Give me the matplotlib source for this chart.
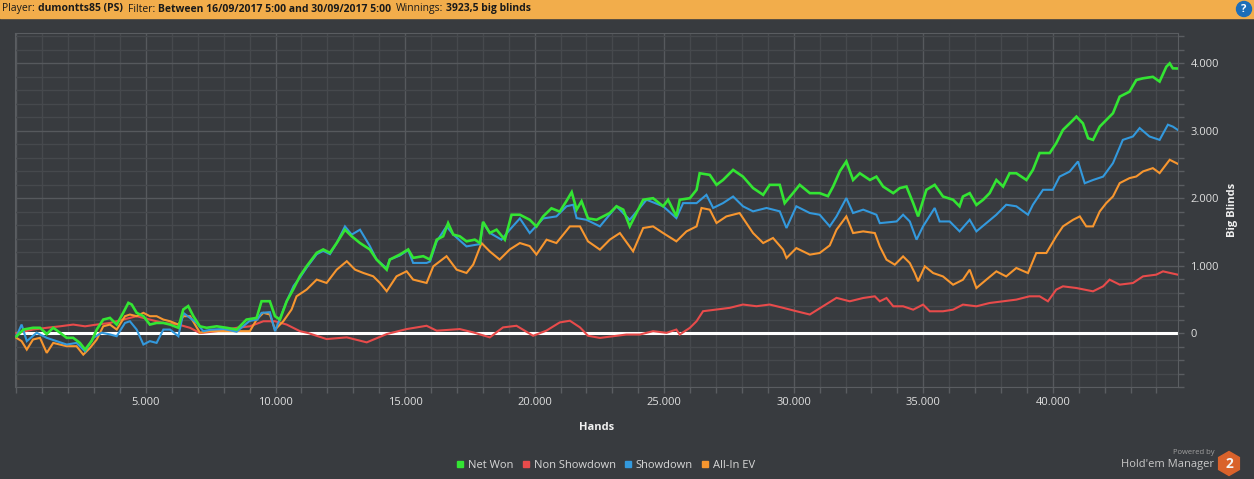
import matplotlib
matplotlib.use("Agg")
import matplotlib.pyplot as plt
from matplotlib.ticker import MultipleLocator, FuncFormatter
from matplotlib.lines import Line2D
from matplotlib.patches import RegularPolygon, Circle, Rectangle

plt.rcParams['font.family'] = ['Open Sans', 'DejaVu Sans']

# ---- data ----
net_won_hands = [0, 270, 640, 910, 1170, 1420, 1680, 1940, 2190, 2450, 2650, 2900, 3100, 3350, 3610, 3870,
                 4120, 4320, 4450, 4640, 4900, 5150, 5410, 5670, 5930, 6250, 6440, 6630, 6830, 7080, 7340,
                 7730, 8110, 8500, 8880, 9270, 9460, 9780, 9980, 10170, 10430, 10680, 10940, 11200, 11590,
                 11840, 12100, 12360, 12680, 12940, 13260, 13640, 13900, 14290, 14410, 14800, 15120, 15310,
                 15700, 15960, 16220, 16470, 16660, 16860, 17110, 17370, 17690, 17890, 18010, 18270, 18530,
                 18850, 19110, 19430, 19810, 20070, 20330, 20650, 20970, 21230, 21430, 21620, 21810, 22060,
                 22390, 22900, 23160, 23420, 23670, 23930, 24190, 24570, 24960, 25150, 25470, 25600, 25990,
                 26250, 26370, 26760, 27020, 27270, 27660, 28040, 28430, 28820, 29070, 29460, 29650, 29970,
                 30230, 30620, 31000, 31320, 31520, 31780, 32030, 32290, 32550, 32940, 33190, 33450, 33840,
                 34090, 34350, 34610, 34800, 35120, 35440, 35760, 36150, 36400, 36530, 36790, 37050, 37310,
                 37560, 37820, 38080, 38330, 38590, 38980, 39230, 39490, 39880, 40130, 40390, 40650, 40910,
                 41160, 41360, 41550, 41810, 42060, 42320, 42580, 42960, 43220, 43480, 43860, 44120, 44380,
                 44510, 44630, 44820]
net_won = [-50, 52, 78, 78, -15, 78, 5, -71, -71, -146, -245, -120, 52, 200, 225, 126,
           300, 448, 423, 300, 250, 126, 150, 150, 126, 78, 350, 400, 250, 100, 78,
           100, 78, 52, 200, 225, 472, 472, 250, 200, 472, 645, 843, 990, 1190,
           1240, 1190, 1335, 1533, 1435, 1335, 1240, 1090, 940, 1090, 1165, 1240, 1115,
           1140, 1090, 1385, 1435, 1630, 1460, 1435, 1360, 1385, 1335, 1650, 1485, 1533,
           1385, 1755, 1755, 1680, 1580, 1730, 1850, 1800, 1960, 2090, 1830, 1955, 1700,
           1680, 1780, 1880, 1830, 1582, 1780, 1977, 2000, 1880, 1977, 1730, 1977, 2000,
           2125, 2370, 2346, 2198, 2270, 2420, 2320, 2150, 2050, 2198, 2198, 1927, 2075,
           2198, 2075, 2075, 2030, 2173, 2400, 2545, 2270, 2370, 2270, 2320, 2173, 2075,
           2150, 2173, 1927, 1730, 2125, 2198, 2025, 1977, 1880, 2025, 2075, 1900, 1977,
           2075, 2270, 2173, 2370, 2370, 2270, 2420, 2670, 2670, 2815, 3013, 3110, 3210,
           3110, 2890, 2865, 3062, 3160, 3260, 3506, 3580, 3753, 3778, 3800, 3730, 3950,
           4000, 3926, 3923.5]

showdown_hands = [0, 200, 400, 780, 1170, 1550, 1940, 2320, 2650, 2970, 3290, 3610, 3870, 4190, 4380, 4640,
                  4900, 5150, 5410, 5670, 5930, 6250, 6440, 6700, 6960, 7210, 7500, 8000, 8500, 9000, 9300,
                  9460, 9780, 9980, 10430, 10700, 10940, 11200, 11590, 11840, 12100, 12360, 12680, 12940,
                  13260, 13640, 13900, 14290, 14410, 14800, 15120, 15310, 15830, 15960, 16220, 16600, 16860,
                  17370, 17890, 18010, 18270, 18720, 19040, 19430, 19810, 20330, 20840, 21230, 21490, 21620,
                  22000, 22520, 23160, 23670, 24320, 24960, 25470, 25730, 26250, 26630, 26890, 27270, 27660,
                  28040, 28430, 28950, 29460, 29720, 30100, 30620, 31000, 31390, 31650, 32030, 32290, 32680,
                  33190, 33320, 33970, 34220, 34480, 34740, 34990, 35440, 35630, 36020, 36400, 36790, 37050,
                  37430, 37820, 38200, 38590, 39040, 39230, 39620, 40000, 40260, 40650, 40970, 41230, 41550,
                  41940, 42320, 42700, 43090, 43350, 43730, 44120, 44440, 44630, 44820]
showdown = [-47, 126, -120, 5, -71, -120, -170, -146, -270, -71, 5, -20, -47, 150, 175, 52,
            -170, -120, -146, 52, 52, -47, 300, 225, 150, 28, 50, 60, 20, 180, 200,
            300, 310, 28, 470, 700, 820, 970, 1170, 1220, 1170, 1335, 1582, 1460,
            1533, 1290, 1090, 960, 1090, 1150, 1230, 1040, 1040, 1060, 1360, 1582, 1460,
            1285, 1320, 1640, 1485, 1385, 1533, 1700, 1483, 1700, 1730, 1880, 1903, 1705,
            1680, 1582, 1880, 1680, 1977, 1880, 1705, 1927, 1927, 2050, 1855, 1927, 2025,
            1880, 1805, 1855, 1805, 1558, 1880, 1780, 1755, 1582, 1730, 2002, 1780, 1830,
            1755, 1630, 1655, 1755, 1655, 1385, 1582, 1855, 1655, 1655, 1508, 1680, 1508,
            1630, 1755, 1903, 1880, 1755, 1903, 2125, 2125, 2320, 2395, 2545, 2222, 2270,
            2320, 2520, 2865, 2915, 3040, 2915, 2865, 3090, 3062, 3013]

allin_ev_hands = [0, 200, 400, 640, 910, 1170, 1420, 1680, 1940, 2320, 2580, 2840, 3100, 3350, 3610, 3870,
                  4190, 4380, 4640, 4900, 5150, 5410, 5670, 5930, 6250, 6440, 6700, 7080, 7470, 7990, 8500,
                  9010, 9270, 9530, 9780, 9980, 10300, 10620, 10810, 11200, 11590, 11970, 12360, 12750,
                  13070, 13390, 13770, 14030, 14290, 14670, 15060, 15310, 15830, 16090, 16600, 16990, 17370,
                  17630, 17950, 18270, 18650, 19040, 19430, 19810, 20070, 20460, 20840, 21360, 21750, 22060,
                  22520, 22900, 23290, 23800, 24190, 24570, 24960, 25470, 25860, 26250, 26440, 26760, 27020,
                  27400, 27910, 28170, 28430, 28820, 29200, 29590, 29720, 30100, 30620, 31000, 31390, 31650,
                  32030, 32290, 32680, 33130, 33320, 33580, 33900, 34220, 34480, 34670, 34800, 35060, 35380,
                  35760, 36150, 36530, 36790, 37050, 37430, 37820, 38200, 38590, 39040, 39360, 39750, 40130,
                  40390, 40780, 41040, 41290, 41550, 41810, 42060, 42320, 42580, 42960, 43220, 43480, 43860,
                  44120, 44510, 44820]
allin_ev = [-71, -120, -245, -96, -71, -294, -146, -170, -195, -195, -320, -220, -96, 100, 126, 52,
            250, 275, 250, 300, 250, 250, 200, 175, 126, 250, 250, 5, 28, 28, 28,
            28, 200, 300, 275, 52, 175, 350, 545, 645, 793, 743, 940, 1065,
            940, 891, 842, 743, 620, 842, 916, 793, 743, 990, 1140, 940, 891,
            1016, 1335, 1210, 1090, 1240, 1335, 1290, 1165, 1385, 1335, 1582, 1582, 1360,
            1237, 1385, 1483, 1212, 1558, 1582, 1483, 1360, 1508, 1582, 1855, 1830, 1632,
            1730, 1780, 1632, 1483, 1335, 1410, 1237, 1113, 1260, 1163, 1187, 1300, 1532,
            1730, 1483, 1508, 1483, 1286, 1088, 1014, 1137, 1038, 890, 768, 990, 890,
            840, 717, 791, 940, 668, 791, 915, 840, 965, 890, 1187, 1187, 1434,
            1582, 1680, 1730, 1582, 1582, 1804, 1927, 2026, 2224, 2298, 2322, 2397, 2446,
            2372, 2570, 2510]

non_showdown_hands = [0, 640, 1170, 1680, 2190, 2650, 3100, 3610, 4120, 4640, 5150, 5670, 6250, 6700, 7080,
                      7730, 8500, 9010, 9530, 9980, 10430, 10940, 11260, 11970, 12750, 13520, 14290, 15060,
                      15830, 16220, 17110, 17630, 18270, 18780, 19300, 19940, 20450, 20970, 21360, 21750,
                      22060, 22520, 23030, 23540, 24060, 24570, 25090, 25470, 25600, 25990, 26250, 26500,
                      27020, 27530, 28040, 28560, 29070, 29590, 30100, 30620, 31130, 31650, 32160, 32680,
                      33130, 33320, 33580, 33840, 34220, 34610, 34990, 35250, 35760, 36150, 36530, 37050,
                      37560, 38080, 38590, 39100, 39490, 39810, 40130, 40390, 40910, 41550, 41940, 42190,
                      42580, 43090, 43480, 43990, 44250, 44820]
non_showdown = [0, 52, 78, 100, 126, 100, 126, 150, 200, 250, 200, 150, 126, 78, 0,
                28, 78, 100, 175, 175, 126, 28, 0, -89, -64, -138, -15, 59,
                108, 35, 59, 10, -64, 84, 108, -40, 35, 158, 183, 84,
                -40, -72, -47, -22, -22, 28, 3, 52, -22, 77, 176, 324,
                349, 374, 423, 398, 423, 374, 324, 275, 398, 522, 471, 520,
                545, 471, 520, 397, 397, 347, 422, 323, 323, 347, 422, 397,
                446, 471, 496, 545, 545, 471, 644, 693, 668, 619, 693, 792,
                718, 742, 841, 866, 915, 866]

series = [
    ("Non Showdown", non_showdown_hands, non_showdown, "#e84b4b", 1.5),
    ("All-In EV", allin_ev_hands, allin_ev, "#f7962f", 1.5),
    ("Showdown", showdown_hands, showdown, "#3399dd", 1.5),
    ("Net Won", net_won_hands, net_won, "#33e533", 1.9),
]
legend_order = ["Net Won", "Non Showdown", "Showdown", "All-In EV"]

header = [("Player:", "normal"), ("dumontts85 (PS)", "bold"), ("Filter:", "normal"),
          ("Between 16/09/2017 5:00 and 30/09/2017 5:00", "bold"), ("Winnings:", "normal"),
          ("3923,5 big blinds", "bold")]

bg = "#383b3f"
W, H = 1254, 479
fig = plt.figure(figsize=(W / 100, H / 100), dpi=100, facecolor=bg)

def fx(px):
    return px / W

def fy(py):
    return 1 - py / H

ax = fig.add_axes([fx(15), fy(387), fx(1178) - fx(15), fy(33) - fy(387)])
ax.set_facecolor(bg)

for name, hx, hy, col, lw in series:
    ax.plot(hx, hy, color=col, lw=lw, label=name, zorder=3, solid_joinstyle='miter')

ax.axhline(0, color="white", lw=2.2, zorder=2)

ax.set_xlim(-55, 44830)
ax.set_ylim(-800, 4450)
ax.xaxis.set_major_locator(MultipleLocator(5000))
ax.xaxis.set_minor_locator(MultipleLocator(1000))
ax.yaxis.set_major_locator(MultipleLocator(1000))
ax.yaxis.set_minor_locator(MultipleLocator(200))

fmt = FuncFormatter(lambda v, p: "{:,}".format(int(round(v))).replace(",", ".") if v != 0 else "0")
ax.xaxis.set_major_formatter(FuncFormatter(lambda v, p: "" if v <= 0 else "{:,}".format(int(v)).replace(",", ".")))
ax.yaxis.set_major_formatter(fmt)

ax.grid(which="major", color="#56595d", lw=1.0, zorder=1)
ax.grid(which="minor", color="#46494d", lw=1.0, zorder=1)

ax.yaxis.tick_right()
ax.yaxis.set_label_position("right")
ax.tick_params(which="both", colors="#5a5d61", labelcolor="#e0e0e0", labelsize=8, length=4, width=1)
ax.tick_params(axis="y", which="both", pad=5, left=False, right=True)
ax.tick_params(axis="x", which="both", pad=3, top=False)
for s in ax.spines.values():
    s.set_color("#5a5d61")

ax.set_xlabel("Hands", color="#f0f0f0", fontsize=8, fontweight="bold", labelpad=10)
ax.set_ylabel("Big Blinds", color="#f0f0f0", fontsize=8, fontweight="bold", labelpad=6)

handles = []
for name in legend_order:
    col = [c for n, _, _, c, _ in series if n == name][0]
    handles.append(Line2D([], [], ls="none", marker="s", ms=5, color=col, label=name))
fig.legend(handles=handles, loc="center", bbox_to_anchor=(fx(606), fy(465)), ncol=4, frameon=False,
           fontsize=8, labelcolor="#d8d8d8", handlelength=0.6, handletextpad=0.4, columnspacing=0.8)

# top bar
fig.patches.append(Rectangle((0, fy(18)), 1, 1 - fy(18), transform=fig.transFigure,
                             color="#f2ad4b", zorder=0))
renderer = fig.canvas.get_renderer()
cur = 2
for txt, wt in header:
    t = fig.text(fx(cur), fy(9), txt, fontsize=7.5, fontweight=wt, color="#1a1a1a", va="center", ha="left")
    bb = t.get_window_extent(renderer)
    cur += bb.width + (3 if wt == "normal" else 5)

# help icon
fig.patches.append(Circle((12.44, 4.79 - 0.09), 0.075, transform=fig.dpi_scale_trans,
                          color="#1d6eb8", zorder=2))
fig.text(fx(1244), fy(9), "?", fontsize=8, fontweight="bold", color="white", ha="center", va="center")

# branding
fig.text(fx(1215), fy(452), "Powered by", fontsize=5.5, color="#a0a0a0", ha="right", va="center")
fig.text(fx(1214), fy(464), "Hold'em Manager", fontsize=8, color="#c8c8c8", ha="right", va="center")
fig.patches.append(RegularPolygon((12.29, 4.79 - 4.635), 6, radius=0.12, transform=fig.dpi_scale_trans,
                                  color="#d9622b", zorder=2))
fig.text(fx(1229), fy(464), "2", fontsize=10, fontweight="bold", color="#f4f4f4", ha="center", va="center")

fig.savefig("out.png", dpi=100, facecolor=bg)
